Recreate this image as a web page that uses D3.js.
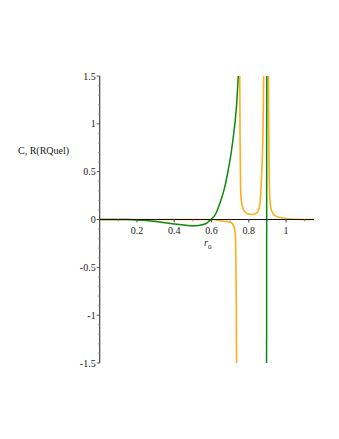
<!DOCTYPE html>
<html><head><meta charset="utf-8">
<script src="https://cdn.jsdelivr.net/npm/d3@7"></script>
<style>
body{margin:0;background:#fff;}
text{font-family:"Liberation Serif","Times New Roman",serif;}
</style></head>
<body><svg id="c" width="339" height="439"></svg>
<script>
const xTicks = [0.2, 0.4, 0.6, 0.8, 1];
const xTickLabels = ["0.2", "0.4", "0.6", "0.8", "1"];
const yTicks = [-1.5, -1, -0.5, 0, 0.5, 1, 1.5];
const yTickLabels = ["-1.5", "-1", "-0.5", "0", "0.5", "1", "1.5"];
const xMinor = [0.1,0.2,0.3,0.4,0.5,0.6,0.7,0.8,0.9,1.0,1.1];
const yMinor = [-1.4,-1.3,-1.2,-1.1,-0.9,-0.8,-0.7,-0.6,-0.4,-0.3,-0.2,-0.1,0.1,0.2,0.3,0.4,0.6,0.7,0.8,0.9,1.1,1.2,1.3,1.4];

// green curve C
const greenMain = [[0,0],[0.1,0],[0.15,-0.001],[0.2,-0.004],[0.25,-0.011],[0.3,-0.021],[0.35,-0.033],[0.4,-0.046],[0.45,-0.057],[0.5,-0.065],[0.53,-0.062],[0.555,-0.052],[0.575,-0.037],[0.588,-0.015],[0.597,0.0],[0.62,0.05],[0.645,0.17],[0.67,0.33],[0.69,0.52],[0.705,0.69],[0.717,0.865],[0.727,1.03],[0.735,1.21],[0.744,1.51],[0.75,1.7]];
const greenPole = [[0.8955,-1.7],[0.8965,1.7]];
// orange curve R(RQuel)
const orangeA = [[0,0],[0.2,0],[0.4,0],[0.55,0],[0.62,-0.002],[0.645,-0.012],[0.67,-0.018],[0.698,-0.026],[0.716,-0.055],[0.725,-0.11],[0.729,-0.2],[0.731,-0.45],[0.733,-0.9],[0.735,-1.8]];
const orangeB = [[0.751,1.8],[0.753,0.9],[0.756,0.33],[0.759,0.22],[0.763,0.16],[0.77,0.11],[0.779,0.08],[0.79,0.062],[0.806,0.054],[0.82,0.053],[0.833,0.057],[0.843,0.07],[0.851,0.092],[0.857,0.13],[0.861,0.18],[0.865,0.3],[0.871,0.55],[0.876,0.9],[0.879,1.3],[0.882,1.8]];
const orangeC = [[0.904,1.8],[0.907,1.0],[0.909,0.55],[0.913,0.22],[0.922,0.094],[0.94,0.04],[0.975,0.018],[1.01,0.007],[1.05,0.002],[1.1,0],[1.15,0]];

const svg = d3.select("#c");
const x = d3.scaleLinear().domain([0, 1.15]).range([99.7, 314]);
const y = d3.scaleLinear().domain([-1.5, 1.5]).range([363, 76]);

svg.append("clipPath").attr("id","clip").append("rect")
  .attr("x", x(0)).attr("y", y(1.5)).attr("width", x(1.15)-x(0)).attr("height", y(-1.5)-y(1.5));

const line = d3.line().x(d=>x(d[0])).y(d=>y(d[1])).curve(d3.curveMonotoneX);
const g = svg.append("g").attr("clip-path","url(#clip)");
[orangeA, orangeB, orangeC].forEach(s=>{
  g.append("path").attr("d", line(s)).attr("fill","none").attr("stroke","#ffae1a").attr("stroke-width",1.6);
});
[greenMain, greenPole].forEach(s=>{
  g.append("path").attr("d", line(s)).attr("fill","none").attr("stroke","#0a8a0a").attr("stroke-width",1.5);
});

// axes
const ax = svg.append("g");
ax.append("line").attr("x1", x(0)).attr("x2", x(1.15)).attr("y1", y(0)).attr("y2", y(0)).attr("stroke","#111").attr("stroke-width",1.1);
ax.append("line").attr("x1", x(0)).attr("x2", x(0)).attr("y1", y(1.5)).attr("y2", y(-1.5)).attr("stroke","#333").attr("stroke-width",1.1);

ax.selectAll(".xm").data(xMinor).enter().append("line")
  .attr("x1", d=>x(d)).attr("x2", d=>x(d)).attr("y1", y(0)).attr("y2", y(0)+2)
  .attr("stroke","#888").attr("stroke-width",0.8);
ax.selectAll(".xt").data(xTicks).enter().append("line")
  .attr("x1", d=>x(d)).attr("x2", d=>x(d)).attr("y1", y(0)).attr("y2", y(0)+3)
  .attr("stroke","#444").attr("stroke-width",0.9);
ax.selectAll(".xl").data(xTicks).enter().append("text")
  .attr("x", d=>x(d)).attr("y", y(0)+14.5).attr("text-anchor","middle")
  .attr("font-size",10).attr("fill","#222").text((d,i)=>xTickLabels[i]);

ax.selectAll(".ym").data(yMinor).enter().append("line")
  .attr("x1", x(0)).attr("x2", x(0)-2).attr("y1", d=>y(d)).attr("y2", d=>y(d))
  .attr("stroke","#999").attr("stroke-width",0.7);
ax.selectAll(".yt").data(yTicks).enter().append("line")
  .attr("x1", x(0)).attr("x2", x(0)-3).attr("y1", d=>y(d)).attr("y2", d=>y(d))
  .attr("stroke","#444").attr("stroke-width",0.9);
ax.selectAll(".yl").data(yTicks).enter().append("text")
  .attr("x", x(0)-4).attr("y", d=>y(d)+3.5).attr("text-anchor","end")
  .attr("font-size",10).attr("fill","#222").text((d,i)=>yTickLabels[i]);

svg.append("text").attr("x",18).attr("y",153.5).attr("font-size",10).attr("fill","#222").text("C, R(RQuel)");
const xl = svg.append("text").attr("x",204).attr("y",246).attr("font-size",10).attr("fill","#222");
xl.append("tspan").attr("font-style","italic").text("r");
xl.append("tspan").attr("font-size",7).attr("dy",3).text("0");
</script></body></html>
